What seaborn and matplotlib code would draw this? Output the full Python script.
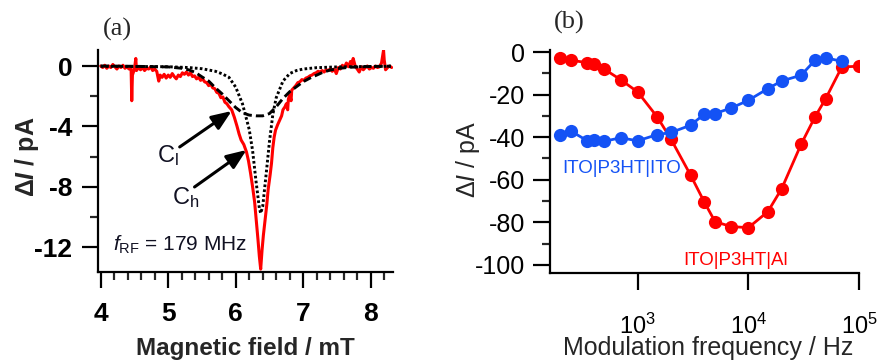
import numpy as np
import pandas as pd
import matplotlib
matplotlib.use("Agg")
import matplotlib.pyplot as plt
import matplotlib.ticker as mticker
import seaborn as sns

# ---------------- data: panel (a) ----------------
field_meas = [4.00, 4.03, 4.06, 4.09, 4.12, 4.15, 4.18, 4.21, 4.24, 4.27, 4.30, 4.33, 4.36, 4.39,
              4.42, 4.45, 4.46, 4.47, 4.50, 4.52, 4.53, 4.56, 4.59, 4.62, 4.65, 4.68, 4.71, 4.74,
              4.77, 4.80, 4.83, 4.86, 4.88, 4.91, 4.94, 4.97, 5.00, 5.03, 5.06, 5.09, 5.12, 5.15,
              5.18, 5.21, 5.24, 5.27, 5.30, 5.33, 5.36, 5.39, 5.42, 5.45, 5.48, 5.51, 5.54, 5.57,
              5.60, 5.63, 5.66, 5.69, 5.72, 5.75, 5.78, 5.81, 5.84, 5.87, 5.90, 5.94, 5.98, 6.02,
              6.05, 6.08, 6.12, 6.16, 6.19, 6.22, 6.25, 6.28, 6.30, 6.33, 6.35, 6.37, 6.39, 6.41,
              6.43, 6.46, 6.48, 6.51, 6.53, 6.55, 6.57, 6.59, 6.62, 6.65, 6.68, 6.70, 6.73, 6.75,
              6.77, 6.78, 6.80, 6.82, 6.83, 6.86, 6.89, 6.92, 6.95, 6.98, 7.01, 7.04, 7.07, 7.10,
              7.13, 7.16, 7.19, 7.22, 7.25, 7.28, 7.31, 7.34, 7.37, 7.40, 7.43, 7.46, 7.49, 7.52,
              7.55, 7.58, 7.61, 7.64, 7.67, 7.70, 7.72, 7.74, 7.77, 7.80, 7.83, 7.86, 7.89, 7.92,
              7.95, 7.98, 8.01, 8.04, 8.07, 8.10, 8.13, 8.16, 8.19, 8.20, 8.22, 8.25, 8.28, 8.31]
signal_meas = [0.0, -0.1, 0.05, -0.15, 0.0, -0.1, 0.1, -0.05, -0.2, 0.0, -0.1, 0.05, -0.15, -0.05,
               -0.2, -0.1, -2.3, -0.6, -0.2, 0.5, -0.3, -0.1, -0.25, -0.1, -0.3, -0.15, -0.2, -0.05,
               -0.3, -0.2, -0.35, -1.0, -0.6, -0.75, -0.55, -0.8, -0.6, -0.75, -0.5, -0.7, -0.85, -0.6,
               -0.7, -0.45, -0.55, -0.4, -0.6, -0.45, -0.7, -0.65, -0.85, -0.75, -0.95, -0.85, -1.05, -1.1,
               -1.3, -1.2, -1.45, -1.5, -1.75, -1.8, -2.1, -2.05, -2.4, -2.5, -2.7, -2.9, -3.4, -4.0,
               -4.5, -4.9, -5.2, -5.7, -6.3, -7.1, -8.0, -9.0, -10.0, -11.5, -12.6, -13.45, -12.2, -11.2,
               -10.4, -9.2, -8.2, -7.2, -6.45, -5.4, -4.7, -4.25, -3.9, -3.6, -3.3, -2.9, -2.7, -2.5,
               -2.9, -2.2, -1.9, -2.3, -1.6, -1.45, -1.3, -1.1, -1.05, -0.9, -0.95, -0.8, -0.75, -0.65,
               -0.6, -0.5, -0.45, -0.35, -0.4, -0.3, -0.4, -0.25, -0.3, -0.2, -0.35, -0.2, -0.5, -0.1,
               -0.2, 0.05, -0.1, 0.2, -0.05, 0.3, 0.1, 0.5, 0.0, -0.2, -0.4, -0.05, -0.25, -0.1,
               0.0, -0.2, -0.1, -0.15, 0.0, -0.1, -0.05, 0.2, 1.05, 0.4, -0.25, -0.1, 0.0, -0.1]

field_cl = [4.0, 4.5, 5.0, 5.2, 5.3, 5.4, 5.5, 5.6, 5.7, 5.8, 5.9, 6.0, 6.1, 6.2, 6.3, 6.4,
            6.5, 6.6, 6.7, 6.8, 6.9, 7.0, 7.1, 7.2, 7.3, 7.4, 7.5, 7.7, 8.0, 8.3]
signal_cl = [0.0, -0.02, -0.06, -0.15, -0.25, -0.42, -0.72, -1.0, -1.45, -1.85, -2.3, -2.75,
             -3.1, -3.25, -3.3, -3.3, -3.15, -2.7, -2.15, -1.7, -1.37, -1.04, -0.8, -0.6, -0.4,
             -0.27, -0.17, -0.08, -0.03, -0.01]

field_ch = [4.0, 4.5, 5.0, 5.3, 5.5, 5.7, 5.8, 5.9, 6.0, 6.1, 6.2, 6.25, 6.3, 6.35, 6.37, 6.4,
            6.45, 6.5, 6.55, 6.6, 6.7, 6.8, 6.9, 7.0, 7.2, 7.5, 8.0, 8.3]
signal_ch = [-0.02, -0.03, -0.05, -0.1, -0.18, -0.35, -0.52, -0.75, -1.4, -2.5, -4.2, -5.6,
             -7.6, -9.4, -9.75, -9.3, -7.2, -5.0, -3.2, -2.1, -1.0, -0.5, -0.3, -0.2, -0.11,
             -0.06, -0.03, -0.02]

# ---------------- data: panel (b) ----------------
freq_al = [200, 250, 350, 400, 500, 700, 1000, 1500, 2000, 3000, 4000, 5000, 7000, 10000,
           15000, 20000, 30000, 40000, 50000, 70000, 100000]
signal_al = [-2.8, -3.9, -5.0, -5.5, -8.1, -13.0, -18.8, -30.5, -41.0, -57.8, -70.5, -79.7,
             -82.0, -82.5, -75.0, -64.2, -43.3, -30.5, -21.9, -7.0, -6.7]
freq_ito = [200, 250, 350, 400, 500, 700, 1000, 1500, 2000, 3000, 4000, 5000, 7000, 10000,
            15000, 20000, 30000, 40000, 50000, 70000]
signal_ito = [-39.0, -37.2, -41.7, -41.4, -41.9, -40.3, -41.7, -38.8, -37.8, -34.4, -29.2,
              -28.9, -26.3, -22.7, -17.2, -13.6, -10.9, -3.9, -2.7, -4.4]
xtick_b = [1e3, 1e4, 1e5]
xtick_b_labels = [r"$\mathregular{10^{3}}$", r"$\mathregular{10^{4}}$", r"$\mathregular{10^{5}}$"]

RED = "#ff0000"
BLUE = "#1452f5"

sns.set_style("ticks")
plt.rcParams["font.family"] = ["Liberation Sans", "DejaVu Sans"]
plt.rcParams["mathtext.fontset"] = "custom"
plt.rcParams["mathtext.rm"] = "Liberation Sans"
plt.rcParams["mathtext.it"] = "Liberation Sans:italic"
plt.rcParams["mathtext.bf"] = "Liberation Sans:bold"
plt.rcParams["mathtext.bfit"] = "Liberation Sans:bold:italic"

W, H = 878, 362
fig = plt.figure(figsize=(W / 100, H / 100), dpi=100)


def px_axes(l, t, r, b):
    return fig.add_axes([l / W, 1 - b / H, (r - l) / W, (b - t) / H])


# ---------------- panel (a) ----------------
axa = px_axes(98, 50, 393, 272)
dfm = pd.DataFrame({"field": field_meas, "signal": signal_meas})
dfl = pd.DataFrame({"field": field_cl, "signal": signal_cl})
dfh = pd.DataFrame({"field": field_ch, "signal": signal_ch})
sns.lineplot(data=dfm, x="field", y="signal", ax=axa, color=RED, lw=2.2, sort=False)
sns.lineplot(data=dfl, x="field", y="signal", ax=axa, color="black", lw=2.1,
             linestyle=(0, (2.8, 1.4)))
sns.lineplot(data=dfh, x="field", y="signal", ax=axa, color="black", lw=2.1,
             linestyle=(0, (0.9, 0.8)))
axa.set_xlim(3.96, 8.33)
axa.set_ylim(-13.64, 1.06)
axa.xaxis.set_major_locator(mticker.MultipleLocator(1))
axa.xaxis.set_minor_locator(mticker.MultipleLocator(0.2))
axa.yaxis.set_major_locator(mticker.FixedLocator([0, -4, -8, -12]))
axa.yaxis.set_minor_locator(mticker.FixedLocator([-2, -6, -10]))
axa.yaxis.set_major_formatter(mticker.FuncFormatter(lambda v, p: f"{v:.0f}"))
axa.tick_params(axis="both", which="major", direction="out", length=11.5, width=1.6,
                labelsize=19, colors="black")
axa.tick_params(axis="both", which="minor", direction="out", length=6, width=1.6)
axa.tick_params(axis="y", which="major", pad=7)
axa.tick_params(axis="x", which="major", pad=10)
for lab in axa.get_xticklabels() + axa.get_yticklabels():
    lab.set_fontweight("bold")
for s in ["top", "right"]:
    axa.spines[s].set_visible(False)
for s in ["left", "bottom"]:
    axa.spines[s].set_linewidth(1.6)
    axa.spines[s].set_color("black")
axa.set_xlabel("Magnetic field / mT", fontsize=17.5, fontweight="bold", va="baseline")
axa.xaxis.set_label_coords(0.5, -(355 - 272) / 222)
axa.set_ylabel(r"Δ$\mathbfit{I}$ / pA", fontsize=18, fontweight="bold", va="center")
axa.yaxis.set_label_coords(-(98 - 27) / 295, (272 - 157) / 222)

axa.annotate("", xy=(5.94, -2.98), xytext=(5.17, -5.36),
             arrowprops=dict(arrowstyle="-|>,head_length=0.6,head_width=0.24",
                             lw=2.2, color="black", mutation_scale=20, shrinkA=0, shrinkB=0))
axa.annotate("", xy=(6.16, -5.56), xytext=(5.39, -8.01),
             arrowprops=dict(arrowstyle="-|>,head_length=0.6,head_width=0.24",
                             lw=2.2, color="black", mutation_scale=20, shrinkA=0, shrinkB=0))
axa.text(4.83, -6.36, r"C$_\mathregular{l}$", fontsize=17, ha="left", va="baseline",
         color="#111122")
axa.text(5.05, -9.14, r"C$_\mathregular{h}$", fontsize=17, ha="left", va="baseline",
         color="#111122")
axa.text(4.18, -12.25, r"$\mathit{f}_\mathregular{RF}$ = 179 MHz", fontsize=15,
         ha="left", va="baseline", color="#111122")
fig.text(117 / W, 1 - 29 / H, "(a)", fontsize=19, family="Liberation Serif",
         ha="center", va="center")

# ---------------- panel (b) ----------------
axb = px_axes(550, 50, 859, 273)
dfa = pd.DataFrame({"freq": freq_al, "signal": signal_al})
dfi = pd.DataFrame({"freq": freq_ito, "signal": signal_ito})
sns.lineplot(data=dfa, x="freq", y="signal", ax=axb, color=RED, lw=2.0, marker="o",
             markersize=9.5, markeredgewidth=0)
sns.lineplot(data=dfi, x="freq", y="signal", ax=axb, color=BLUE, lw=2.0, marker="o",
             markersize=9.5, markeredgewidth=0)
axb.set_xscale("log")
axb.set_xlim(161, 1e5)
axb.set_ylim(-103.8, 0.94)
axb.xaxis.set_major_locator(mticker.FixedLocator(xtick_b))
axb.xaxis.set_major_formatter(mticker.FixedFormatter(xtick_b_labels))
axb.xaxis.set_minor_locator(mticker.NullLocator())
axb.yaxis.set_major_locator(mticker.MultipleLocator(20))
axb.yaxis.set_minor_locator(mticker.MultipleLocator(10))
axb.yaxis.set_major_formatter(mticker.FuncFormatter(lambda v, p: f"{v:.0f}"))
axb.tick_params(axis="both", which="major", direction="out", length=12, width=1.6,
                labelsize=18, colors="black")
axb.tick_params(axis="y", which="minor", direction="out", length=6, width=1.6)
axb.tick_params(axis="y", which="major", pad=6)
axb.tick_params(axis="x", which="major", pad=17, labelsize=17)
for s in ["top", "right"]:
    axb.spines[s].set_visible(False)
for s in ["left", "bottom"]:
    axb.spines[s].set_linewidth(1.6)
    axb.spines[s].set_color("black")
axb.set_xlabel("Modulation frequency / Hz", fontsize=18, va="baseline")
axb.xaxis.set_label_coords((708.5 - 550) / 309, -(355 - 273) / 223)
axb.set_ylabel(r"Δ$\mathit{I}$ / pA", fontsize=18, va="center")
axb.yaxis.set_label_coords(-(550 - 468) / 309, (273 - 159) / 223)
axb.text(207, -56.8, "ITO|P3HT|ITO", color=BLUE, fontsize=13.5, ha="left", va="baseline")
axb.text(2566, -100, "ITO|P3HT|Al", color=RED, fontsize=13.5, ha="left", va="baseline")
fig.text(569 / W, 1 - 22 / H, "(b)", fontsize=19, family="Liberation Serif",
         ha="center", va="center")

fig.savefig("out.png", dpi=100)
